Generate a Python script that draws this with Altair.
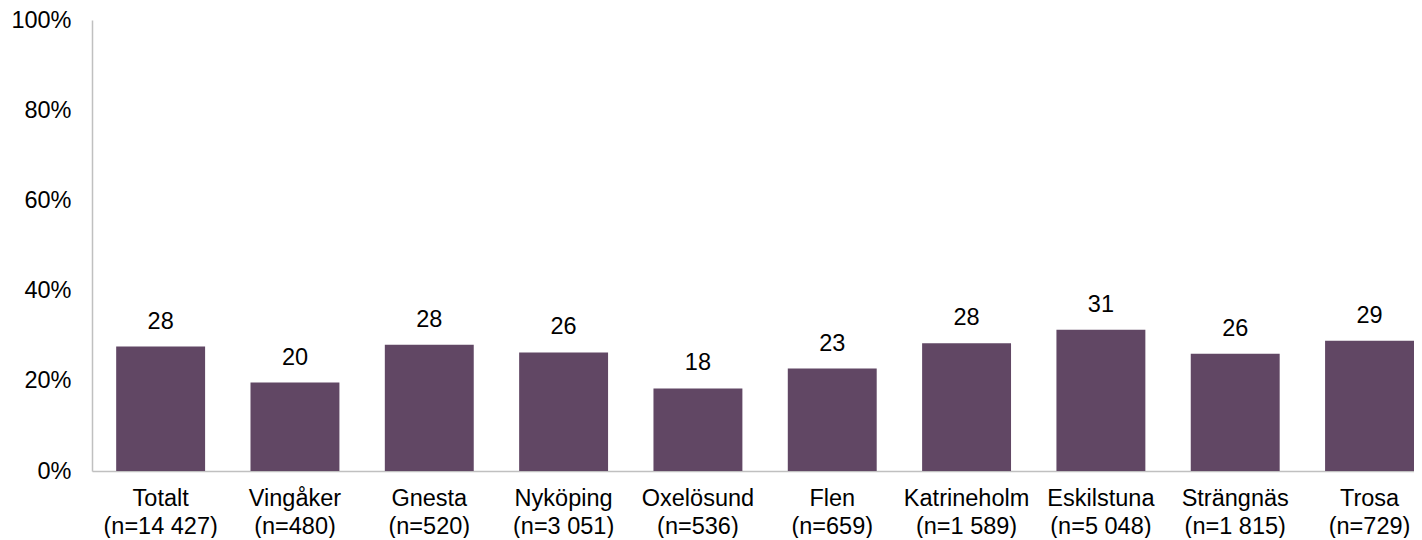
import altair as alt
import pandas as pd

names = ["Totalt", "Vingåker", "Gnesta", "Nyköping", "Oxelösund", "Flen",
         "Katrineholm", "Eskilstuna", "Strängnäs", "Trosa"]
counts = ["(n=14 427)", "(n=480)", "(n=520)", "(n=3 051)", "(n=536)", "(n=659)",
          "(n=1 589)", "(n=5 048)", "(n=1 815)", "(n=729)"]
values = [27.6, 19.6, 28.0, 26.3, 18.3, 22.7, 28.3, 31.3, 26.0, 28.9]

df = pd.DataFrame({
    "cat": [f"{n}|{c}" for n, c in zip(names, counts)],
    "value": values,
})

FONT = "Liberation Sans"
FS = 23.5
order = list(df["cat"])

x = alt.X("cat:N", sort=order, title=None,
          scale=alt.Scale(paddingInner=0.338, paddingOuter=0.09, align=1),
          axis=alt.Axis(labelAngle=0, labelExpr="split(datum.label, '|')",
                        labelFont=FONT, labelFontSize=FS, labelColor="black",
                        labelPadding=15, labelLineHeight=28, ticks=False,
                        domainColor="#c0c0c0", domainWidth=1.5))
y = alt.Y("value:Q", title=None,
          scale=alt.Scale(domain=[0, 100]),
          axis=alt.Axis(values=[0, 20, 40, 60, 80, 100], labelExpr="datum.value + '%'",
                        labelFont=FONT, labelFontSize=FS, labelColor="black",
                        labelPadding=21, ticks=False, grid=False,
                        domainColor="#c0c0c0", domainWidth=1.5))

bars = alt.Chart(df).mark_bar(color="#614764").encode(x=x, y=y)
text = alt.Chart(df).mark_text(baseline="bottom", dy=-13, font=FONT, fontSize=FS,
                               color="black").encode(
    x=alt.X("cat:N", sort=order), y="value:Q",
    text=alt.Text("value:Q", format=".0f"))

chart = (bars + text).properties(
    width=1322, height=451,
    autosize=alt.AutoSizeParams(type="none"),
    padding={"left": 84, "top": 12, "right": 0, "bottom": 67},
).configure_view(stroke=None)

chart.save("out.html", embed_options={"renderer": "svg", "actions": False})
